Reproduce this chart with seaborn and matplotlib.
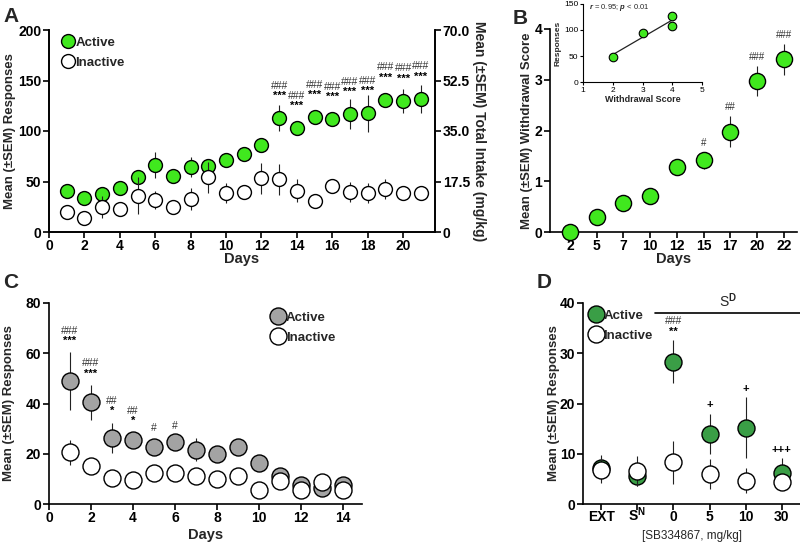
import matplotlib
matplotlib.use("Agg")
import matplotlib.pyplot as plt
import numpy as np
import seaborn as sns
from matplotlib.lines import Line2D

# ---- data ----
a_days = np.arange(1, 22)
a_active = [41, 34, 37.5, 44, 54, 66.5, 55, 64, 65, 71.5, 77.5, 86, 113, 103,
            114, 112, 117, 117.5, 131, 130, 132]
a_active_sem = [3, 3, 4, 4, 6, 13, 4, 10, 6, 5, 4, 4, 13, 4, 4, 4, 15, 18, 4, 12, 14]
a_inactive = [20, 14, 25, 23, 36, 32, 25, 33, 54, 39, 39.5, 53, 52, 41, 31, 46,
              39.5, 38.5, 42.5, 39, 39]
a_inactive_sem = [3, 7, 11, 4, 18, 9, 4, 11, 15, 10, 7, 15, 15, 11, 3, 3, 10, 10, 10, 4, 4]
a_star = [""] * 12 + ["***"] * 9
a_hash = [""] * 12 + ["###"] * 9

b_days = ["2", "5", "7", "10", "12", "15", "17", "20", "22"]
b_score = [0, 0.29, 0.57, 0.70, 1.28, 1.41, 1.98, 2.97, 3.40]
b_sem = [0, 0.1, 0.15, 0.1, 0.05, 0.16, 0.3, 0.3, 0.3]
b_hash = ["", "", "", "", "", "#", "##", "###", "###"]

ins_score = [2, 3, 4, 4]
ins_resp = [48, 95, 126, 108]

c_days = np.arange(1, 15)
c_active = [48.9, 40.5, 26.4, 25.5, 22.6, 24.6, 21.6, 19.8, 22.8, 16.5, 11, 7.4, 6.5, 7.5]
c_active_sem = [11.5, 7, 6, 3, 3, 2, 4.5, 2, 1.5, 1, 1, 1, 1, 1]
c_inactive = [20.5, 15, 10.4, 9.4, 12.3, 12.3, 11, 10, 11, 5.7, 9, 5.7, 8.7, 5.7]
c_inactive_sem = [5, 2, 1, 1, 1, 1, 1, 1, 1, 2, 1, 1, 1, 1]
c_star = ["***", "***", "*", "*", "", ""] + [""] * 8
c_hash = ["###", "###", "##", "##", "#", "#"] + [""] * 8

d_groups = ["EXT", "$\\mathbf{S^{N}}$", "0", "5", "10", "30"]
d_active = [7.2, 5.6, 28.3, 14.0, 15.2, 6.1]
d_active_sem = [2.5, 2, 4.3, 4, 6, 3]
d_inactive = [6.7, 6.6, 8.3, 5.9, 4.6, 4.3]
d_inactive_sem = [2.5, 3, 4.3, 3, 2.5, 1]
d_star = ["", "", "**", "+", "+", "+++"]
d_hash = ["", "", "###", "", "", ""]

GREEN = "#40e81e"
DGREEN = "#3a9e46"
GREY = "#a3a3a3"

sns.set_theme(style="ticks")
plt.rcParams["font.family"] = ["Liberation Sans", "DejaVu Sans"]
plt.rcParams.update({"font.weight": "bold", "axes.labelweight": "bold",
                     "axes.linewidth": 1.2, "xtick.major.width": 1.2,
                     "ytick.major.width": 1.2, "xtick.major.size": 4,
                     "ytick.major.size": 4, "xtick.labelsize": 10,
                     "ytick.labelsize": 10, "axes.labelsize": 9.5,
                     "xtick.major.pad": 1, "ytick.major.pad": 1.5,
                     "xtick.color": "black", "ytick.color": "black",
                     "axes.edgecolor": "black", "mathtext.fontset": "custom",
                     "mathtext.rm": "Liberation Sans",
                     "mathtext.bf": "Liberation Sans:bold",
                     "mathtext.it": "Liberation Sans:italic"})

W, H = 800, 543
fig = plt.figure(figsize=(8, 5.43), dpi=100)


def box(l, t, r, b):
    return [l / W, 1 - b / H, (r - l) / W, (b - t) / H]


def labels(ax, xl, yl, xpos, ypos, xfs=10.5):
    ax.set_xlabel(xl, fontsize=xfs)
    ax.set_ylabel(yl)
    ax.xaxis.set_label_coords(0.5, xpos)
    ax.xaxis.label.set_va("center")
    ax.yaxis.set_label_coords(ypos, 0.5)
    ax.yaxis.label.set_va("center")


def draw(ax, x, mean, sem, face, s, z=3):
    ax.errorbar(x, mean, yerr=sem, fmt="none", ecolor="#222222",
                elinewidth=0.8, capsize=0, zorder=z - 1, clip_on=False)
    sns.scatterplot(x=x, y=mean, ax=ax, s=s, color=face, edgecolor="black",
                    linewidth=1.0, zorder=z, clip_on=False, legend=False)


def stack(ax, x, top, lower, upper, gap, step, fs_lo=8, fs_up=7.5):
    for xi, t, lo, up in zip(x, top, lower, upper):
        if lo:
            ax.text(xi, t + gap, lo, ha="center", va="center", fontsize=fs_lo,
                    fontweight="bold", color="black")
            if up:
                ax.text(xi, t + gap + step, up, ha="center", va="center",
                        fontsize=fs_up, fontweight="normal", color="#333333")
        elif up:
            ax.text(xi, t + gap, up, ha="center", va="center", fontsize=fs_up,
                    fontweight="normal", color="#333333")


def leg(ax, face, s, **kw):
    ms = np.sqrt(s)
    h = [Line2D([], [], ls="none", marker="o", ms=ms, mfc=face, mec="black", mew=1.0),
         Line2D([], [], ls="none", marker="o", ms=ms, mfc="white", mec="black", mew=1.0)]
    ax.legend(h, ["Active", "Inactive"], frameon=False, handlelength=1.0,
              handletextpad=0.05, borderpad=0, labelspacing=0.6,
              prop={"weight": "bold", "size": 9.5}, **kw)


# ---- A ----
ax = fig.add_axes(box(49, 30, 435, 232))
draw(ax, a_days, a_active, a_active_sem, GREEN, 100)
draw(ax, a_days, a_inactive, a_inactive_sem, "white", 100, z=5)
stack(ax, a_days, a_active, a_star, a_hash, 22, 10)
ax.set_xlim(0, 21.8)
ax.set_ylim(0, 200)
ax.set_xticks(range(0, 21, 2))
ax.set_yticks(range(0, 201, 50))
labels(ax, "Days", "Mean (±SEM) Responses", -0.132, -0.1)
ax.spines["top"].set_visible(False)
leg(ax, GREEN, 100, loc="upper left", bbox_to_anchor=(0.015, 1.0))
ax2 = ax.twinx()
ax2.set_ylim(0, 70)
ax2.set_yticks([0, 17.5, 35, 52.5, 70])
ax2.set_yticklabels(["0", "17.5", "35.0", "52.5", "70.0"])
ax2.set_ylabel("Mean (±SEM) Total Intake (mg/kg)", rotation=270, fontsize=10)
ax2.yaxis.set_label_coords(1.114, 0.5)
ax2.yaxis.label.set_va("center")
ax2.spines["top"].set_visible(False)

# ---- B ----
ax = fig.add_axes(box(550, 29, 797, 232))
xb = np.arange(len(b_days))
draw(ax, xb, b_score, b_sem, GREEN, 135)
stack(ax, xb, np.add(b_score, b_sem), [""] * len(xb), b_hash, 0.18, 0, fs_up=7)
ax.set_xlim(-0.75, 8.5)
ax.set_ylim(0, 4)
ax.set_xticks(xb)
ax.set_xticklabels(b_days)
ax.set_yticks(range(5))
labels(ax, "Days", "Mean (±SEM) Withdrawal Score", -0.132, -0.092)
sns.despine(ax=ax)

# inset
ai = fig.add_axes(box(583, 4, 702, 82))
sns.regplot(x=ins_score, y=ins_resp, ax=ai, ci=None, truncate=True,
            scatter_kws={"s": 38, "color": GREEN, "edgecolor": "black",
                         "linewidths": 0.8, "alpha": 1, "zorder": 3},
            line_kws={"color": "#222222", "lw": 0.9})
ai.set_xlim(1, 5)
ai.set_ylim(0, 150)
ai.set_xticks(range(1, 6))
ai.set_yticks([0, 50, 100, 150])
ai.tick_params(labelsize=6, length=2.5, width=0.8, pad=1)
for lab in ai.get_xticklabels() + ai.get_yticklabels():
    lab.set_fontweight("normal")
ai.set_xlabel("Withdrawal Score", fontsize=6.5, labelpad=1)
ai.set_ylabel("Responses", fontsize=6, labelpad=2)
for sp in ["left", "bottom"]:
    ai.spines[sp].set_linewidth(0.8)
sns.despine(ax=ai)
ai.text(1.2, 143, "$\\it{r}$ = 0.95; $\\it{p}$ < 0.01", fontsize=5.5,
        fontweight="normal", va="center")

# ---- C ----
ax = fig.add_axes(box(49, 303, 362, 504))
draw(ax, c_days, c_active, c_active_sem, GREY, 150)
draw(ax, c_days, c_inactive, c_inactive_sem, "white", 150, z=5)
stack(ax, c_days, np.add(c_active, c_active_sem), c_star, c_hash, 4.5, 4)
ax.set_xlim(0, 14.9)
ax.set_ylim(0, 80)
ax.set_xticks(range(0, 15, 2))
ax.set_yticks(range(0, 81, 20))
labels(ax, "Days", "Mean (±SEM) Responses", -0.152, -0.128)
sns.despine(ax=ax)
leg(ax, GREY, 150, loc="upper right", bbox_to_anchor=(0.935, 0.99))

# ---- D ----
ax = fig.add_axes(box(583, 303, 800, 504))
xd = np.arange(len(d_groups))
draw(ax, xd, d_active, d_active_sem, DGREEN, 150)
draw(ax, xd, d_inactive, d_inactive_sem, "white", 150, z=5)
stack(ax, xd, np.add(d_active, d_active_sem), d_star, d_hash, 1.7, 2.1)
ax.plot([1.5, 5.5], [38.1, 38.1], color="black", lw=1.2, clip_on=False)
ax.text(3.5, 38.6, "S$^\\mathrm{D}$", ha="center", va="bottom",
        fontsize=10, fontweight="normal")
ax.set_xlim(-0.5, 5.5)
ax.set_ylim(0, 40)
ax.set_xticks(xd)
ax.set_xticklabels(d_groups)
ax.tick_params(axis="x", pad=8)
for lab in ax.get_xticklabels():
    lab.set_va("baseline")
ax.set_yticks(range(0, 41, 10))
labels(ax, "[SB334867, mg/kg]", "Mean (±SEM) Responses", -0.16, -0.134, xfs=8.5)
ax.xaxis.label.set_fontweight("normal")
sns.despine(ax=ax)
leg(ax, DGREEN, 150, loc="upper left", bbox_to_anchor=(0.0, 1.0))

for txt, x, y in [("A", 3, 17), ("B", 513, 18), ("C", 3, 283), ("D", 537, 283)]:
    fig.text(x / W, 1 - y / H, txt, fontsize=15, fontweight="bold", va="center")

fig.savefig("out.png", dpi=100)
